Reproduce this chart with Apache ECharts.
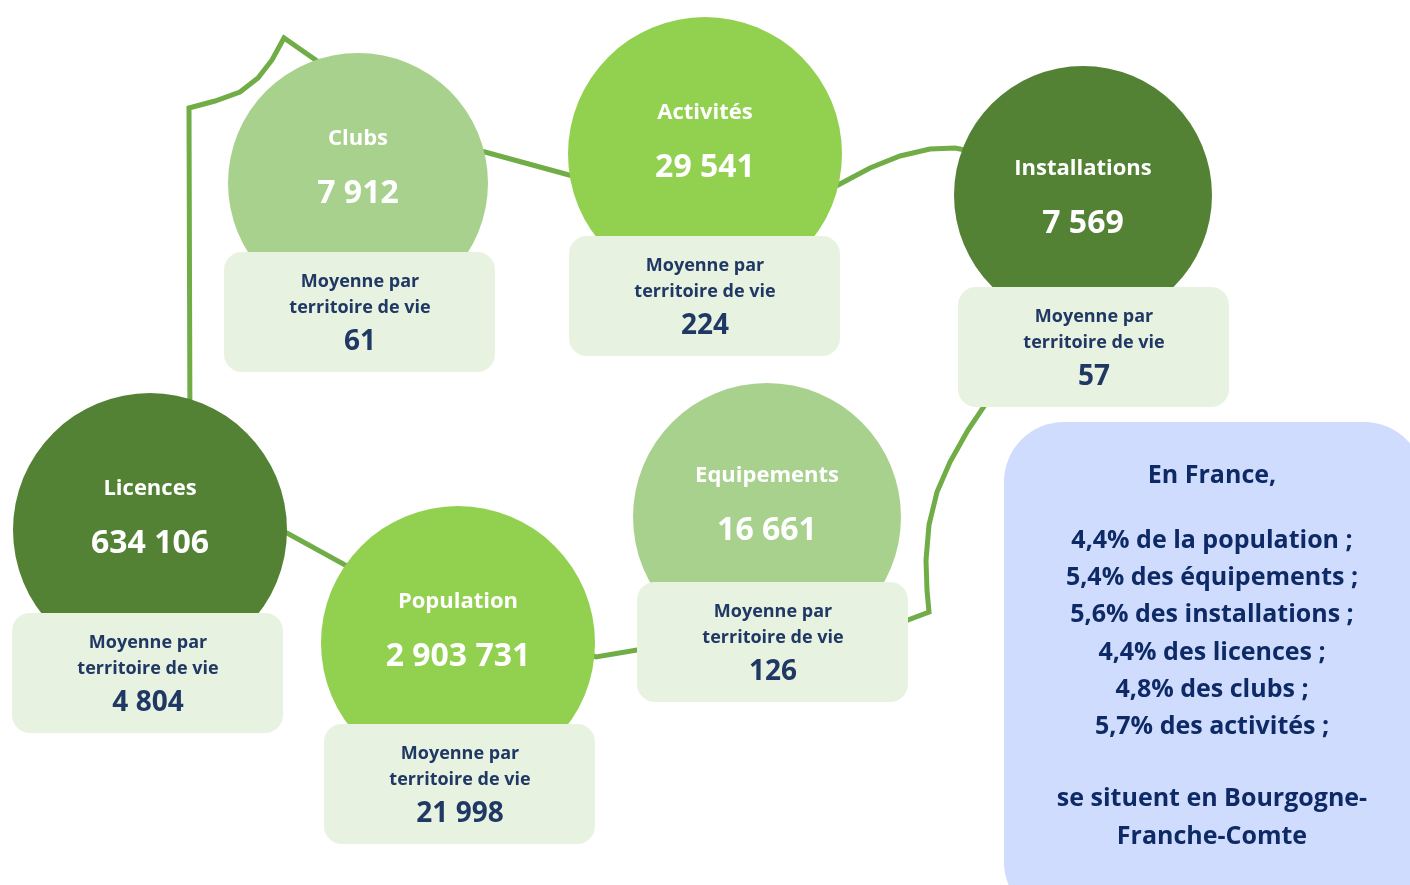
<!DOCTYPE html>
<html>
<head>
<meta charset="utf-8">
<script src="https://cdn.jsdelivr.net/npm/echarts@6/dist/echarts.min.js"></script>
<style>
    html, body { margin: 0; padding: 0; background: #ffffff; }
    #main { width: 1410px; height: 885px; }
</style>
</head>
<body>
<div id="main"></div>
<script type="text/javascript">
    // données
    var categories = ['Licences', 'Clubs', 'Activités', 'Installations', 'Equipements', 'Population'];
    var totals = ['634 106', '7 912', '29 541', '7 569', '16 661', '2 903 731'];
    var averages = ['4 804', '61', '224', '57', '126', '21 998'];
    var franceLines = [
        'En France,', '',
        '4,4% de la population ;',
        '5,4% des équipements ;',
        '5,6% des installations ;',
        '4,4% des licences ;',
        '4,8% des clubs ;',
        '5,7% des activités ;', '',
        'se situent en Bourgogne-',
        'Franche-Comte'
    ];

    // mise en page (pixels)
    var centers = [[150, 530], [358, 183], [705, 154], [1083, 195], [767, 517], [458, 643]];
    var radius = [137, 130, 137, 129, 134, 137];
    var labelShift = [-14, -17, -14, 1, -14, -14];
    var boxes = [[12, 613], [224, 252], [569, 236], [958, 287], [637, 582], [324, 724]];
    var colors = ['#548235', '#a9d18e', '#92d050', '#548235', '#a9d18e', '#92d050'];
    var path = [
        [200, 500], [287, 533], [345, 565], [560, 640], [596, 657], [637, 650], [870, 640],
        [908, 620], [929, 612], [927, 590], [926, 560], [929, 525], [937, 492], [950, 462],
        [968, 430], [985, 405], [1000, 380], [1080, 200], [975, 152], [955, 148], [930, 149],
        [900, 156], [870, 168], [838, 185], [760, 200], [580, 178], [485, 152], [420, 140],
        [330, 70], [284, 38], [272, 60], [258, 78], [240, 92], [215, 101], [189, 108], [190, 440]
    ];

    var font = '"Open Sans", sans-serif';
    var navy = '#1f3864';
    var myChart = echarts.init(document.getElementById('main'));

    var circleData = categories.map(function (c, i) {
        return {
            value: centers[i],
            symbolSize: radius[i] * 2,
            itemStyle: { color: colors[i], opacity: 1 },
            label: { offset: [0, labelShift[i]], formatter: '{t|' + c + '}\n{v|' + totals[i] + '}' }
        };
    });

    var option = {
        animation: false,
        grid: { left: 0, right: 0, top: 0, bottom: 0 },
        xAxis: { type: 'value', min: 0, max: 1410, show: false },
        yAxis: { type: 'value', min: 0, max: 885, inverse: true, show: false },
        series: [
            {
                type: 'line',
                data: path,
                symbol: 'none',
                z: 1,
                lineStyle: { color: '#70ad47', width: 5, join: 'miter' }
            },
            {
                type: 'scatter',
                data: circleData,
                symbol: 'circle',
                z: 2,
                label: {
                    show: true,
                    position: 'inside',
                    rich: {
                        t: { fontFamily: font, fontWeight: 'bold', fontSize: 22, color: '#ffffff', lineHeight: 55 },
                        v: { fontFamily: font, fontWeight: 'bold', fontSize: 32, color: '#ffffff', lineHeight: 55 }
                    }
                }
            },
            {
                type: 'custom',
                z: 3,
                data: boxes.map(function (b, i) { return [b[0], b[1], i]; }),
                renderItem: function (params, api) {
                    var p = api.coord([api.value(0), api.value(1)]);
                    var i = api.value(2);
                    return {
                        type: 'group',
                        children: [
                            {
                                type: 'rect',
                                shape: { x: p[0], y: p[1], width: 271, height: 120, r: 18 },
                                style: { fill: '#e8f2e1' }
                            },
                            {
                                type: 'text',
                                x: p[0] + 136, y: p[1] + 17,
                                style: {
                                    text: '{a|Moyenne par}\n{a|territoire de vie}\n{b|' + averages[i] + '}',
                                    align: 'center', verticalAlign: 'top',
                                    rich: {
                                        a: { fontFamily: font, fontWeight: 'bold', fontSize: 18, fill: navy, lineHeight: 26, align: 'center' },
                                        b: { fontFamily: font, fontWeight: 'bold', fontSize: 28, fill: navy, lineHeight: 42, align: 'center' }
                                    }
                                }
                            }
                        ]
                    };
                }
            }
        ],
        graphic: [
            {
                type: 'rect',
                left: 1004, top: 422,
                shape: { width: 420, height: 500, r: 60 },
                style: { fill: '#cfdcfd' },
                z: 5
            },
            {
                type: 'text',
                x: 1212, y: 457,
                z: 6,
                style: {
                    text: franceLines.map(function (l, i) {
                        if (l === '') return i < 3 ? '{g|}' : '{h|}';
                        return '{' + (i >= 9 ? 's' : 'l') + '|' + l + '}';
                    }).join('\n'),
                    align: 'center', verticalAlign: 'top',
                    rich: {
                        l: { fontFamily: font, fontWeight: 'bold', fontSize: 25, fill: '#0d2a66', lineHeight: 37.2, align: 'center' },
                        s: { fontFamily: font, fontWeight: 'bold', fontSize: 25, fill: '#0d2a66', lineHeight: 38, align: 'center' },
                        g: { lineHeight: 28 },
                        h: { lineHeight: 34 }
                    }
                }
            }
        ]
    };
    myChart.setOption(option);
</script>
</body>
</html>
